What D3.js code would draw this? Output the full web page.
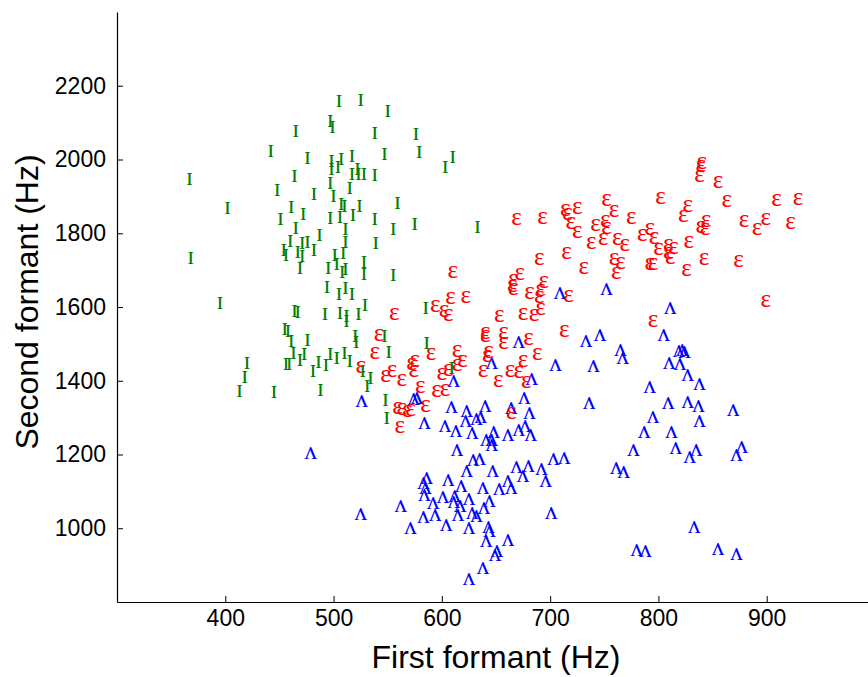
<!DOCTYPE html>
<html>
<head>
<meta charset="utf-8">
<script src="https://cdn.jsdelivr.net/npm/d3@7"></script>
<style>
  body { margin: 0; background: #fff; }
  svg { display: block; }
</style>
</head>
<body>
<svg id="chart" width="868" height="677"></svg>
<script>
// Formant measurements (Hz) for three vowels: F1 / F2 per token.
const ihF1 = [465,442,476,367,464,448,482,402,461,472,451,465,487,460,476,471,454,456,467,482,471,368,497,499,497,497,
  469,495,494,395,464,467,492,455,458,461,476,463,473,469,497,420,456,459,486,481,493,418,413,445,488,
  505,525,550,538,576,547,579,610,603,498,507,517,504,498,522,517,523,528,538,515,500,507,510,524,559,506,518,538,575,555,511,511,539,509,501,
  528,503,508,511,528,555,511,505,517,529,506,512,512,523,585,520,521,547,551,586,503,510,515,527,534,531,609,548,549,633];
const ihF2 = [2076,2022,2002,1947,1954,1915,1904,1867,1869,1852,1836,1813,1794,1777,1776,1771,1753,1741,1747,1754,1737,1732,2102,2086,1934,1839,
  1705,1705,1653,1610,1587,1586,1580,1538,1533,1506,1510,1474,1472,1456,1470,1447,1445,1445,1450,1426,1441,1408,1370,1367,1373,
  2157,2160,2129,2070,2067,2013,2018,2006,1977,1994,2001,2008,1979,1972,1972,1960,1958,1958,1956,1922,1900,1877,1872,1872,1880,1843,1848,1838,1823,1809,1809,1775,1771,1744,1739,
  1722,1714,1693,1702,1687,1685,1651,1633,1633,1605,1583,1574,1560,1581,1596,1519,1505,1519,1477,1500,1461,1474,1451,1424,1406,1384,1434,1346,1298,1815];

const ehF1 = [610,608,622,594,602,606,556,542,538,614,590,572,575,574,525,548,554,563,600,606,614,619,580,595,603,559,563,568,571,585,561,
  669,693,714,725,716,719,725,742,751,752,749,738,752,715,690,731,672,666,665,666,694,691,681,690,717,691,685,675,653,640,640,657,657,680,713,643,642,688,675,638,663,671,652,678,664,
  840,839,838,855,802,863,759,827,823,775,844,839,843,879,792,785,796,762,769,828,809,814,800,809,811,759,765,761,792,795,842,826,874,795,
  909,929,899,891,922,899];
const ehF2 = [1694,1624,1625,1601,1587,1576,1580,1524,1474,1479,1470,1445,1451,1424,1437,1411,1424,1402,1417,1429,1442,1451,1382,1370,1373,1325,1323,1316,1318,1329,1273,
  1836,1841,1863,1868,1850,1827,1802,1820,1832,1814,1782,1773,1890,1746,1728,1705,1687,1673,1655,1648,1667,1646,1637,1626,1628,1594,1578,1581,1574,1529,1519,1529,1501,1513,1533,1476,1465,1470,1451,1424,1424,1422,1397,1394,1310,
  1990,1981,1954,1937,1895,1886,1859,1872,1845,1841,1833,1816,1809,1833,1809,1795,1786,1782,1766,1776,1768,1759,1757,1746,1732,1728,1719,1691,1714,1714,1729,1698,1723,1560,
  1890,1892,1836,1809,1827,1616];

const uhF1 = [479,526,574,577,611,609,584,603,613,622,623,
  614,623,586,583,585,584,606,618,612,611,617,625,601,592,562,525,583,594,615,571,604,625,625,
  709,752,671,733,746,646,705,740,683,
  676,640,664,681,736,632,636,628,648,641,646,646,661,677,671,682,629,635,647,669,680,675,692,703,713,696,638,653,661,664,644,639,628,632,701,643,644,641,661,651,649,638,
  811,805,765,767,819,822,824,810,820,827,838,792,809,827,837,869,795,838,787,812,
  777,816,829,835,872,877,761,768,833,780,788,855,872];
const uhF2 = [1203,1343,1350,1352,1397,1327,1284,1275,1263,1289,1316,
  1212,1153,1135,1121,1108,1090,1130,1112,1087,1071,1058,1079,1083,1067,1058,1037,1028,1035,1035,999,1008,999,861,
  1637,1648,1503,1506,1524,1447,1442,1438,1404,
  1352,1329,1325,1311,1338,1296,1301,1257,1261,1239,1239,1225,1252,1275,1266,1251,1185,1187,1153,1166,1168,1141,1160,1187,1189,1128,1109,1105,1126,1108,1073,1053,1041,1031,1041,1002,990,963,967,938,927,890,
  1596,1524,1483,1461,1479,1483,1477,1447,1445,1413,1390,1382,1338,1341,1329,1318,1299,1290,1260,1260,
  1212,1216,1191,1212,1196,1218,1162,1151,1001,940,938,943,929];

const vowels = [
  { symbol: "\u028C", color: "#0000ff", f1: uhF1, f2: uhF2 },
  { symbol: "\u025B", color: "#ff0000", f1: ehF1, f2: ehF2 },
  { symbol: "\u026A", color: "#008000", f1: ihF1, f2: ihF2 }
];

const xTicks = [400, 500, 600, 700, 800, 900];
const yTicks = [1000, 1200, 1400, 1600, 1800, 2000, 2200];

const svg = d3.select("#chart");
const x = d3.scaleLinear().domain([300, 1000]).range([117, 875]);
const y = d3.scaleLinear().domain([800, 2400]).range([602, 12]);

const sansFont = "'Liberation Sans', Arial, sans-serif";
const fmt = d3.format("d");

// Axes with short inward ticks
const gx = svg.append("g")
  .attr("transform", "translate(0,602)")
  .call(d3.axisBottom(x).tickValues(xTicks).tickFormat(fmt).tickSize(-6).tickSizeOuter(0).tickPadding(8));
const gy = svg.append("g")
  .attr("transform", "translate(117,0)")
  .call(d3.axisLeft(y).tickValues(yTicks).tickFormat(fmt).tickSize(-6).tickSizeOuter(0).tickPadding(11));

[gx, gy].forEach(g => {
  g.select(".domain").attr("stroke", "#000").attr("stroke-width", 1.2);
  g.selectAll(".tick line").attr("stroke", "#000").attr("stroke-width", 1);
  g.selectAll(".tick text")
    .attr("fill", "#000")
    .style("font-family", sansFont)
    .style("font-size", "23px");
});

// Vowel tokens drawn as IPA symbols
vowels.forEach(v => {
  svg.append("g")
    .selectAll("text")
    .data(d3.zip(v.f1, v.f2))
    .join("text")
    .attr("x", d => x(d[0]))
    .attr("y", d => y(d[1]))
    .attr("dy", "0.22em")
    .attr("text-anchor", "middle")
    .attr("fill", v.color)
    .style("font-family", "'Liberation Serif', 'DejaVu Serif', serif")
    .style("font-size", "25px")
    .text(v.symbol);
});

// Axis titles
svg.append("text")
  .attr("x", 496)
  .attr("y", 657)
  .attr("dy", "0.35em")
  .attr("text-anchor", "middle")
  .style("font-family", sansFont)
  .style("font-size", "32px")
  .text("First formant (Hz)");

svg.append("text")
  .attr("transform", "translate(27,302) rotate(-90)")
  .attr("dy", "0.35em")
  .attr("text-anchor", "middle")
  .style("font-family", sansFont)
  .style("font-size", "32px")
  .text("Second formant (Hz)");
</script>
</body>
</html>
